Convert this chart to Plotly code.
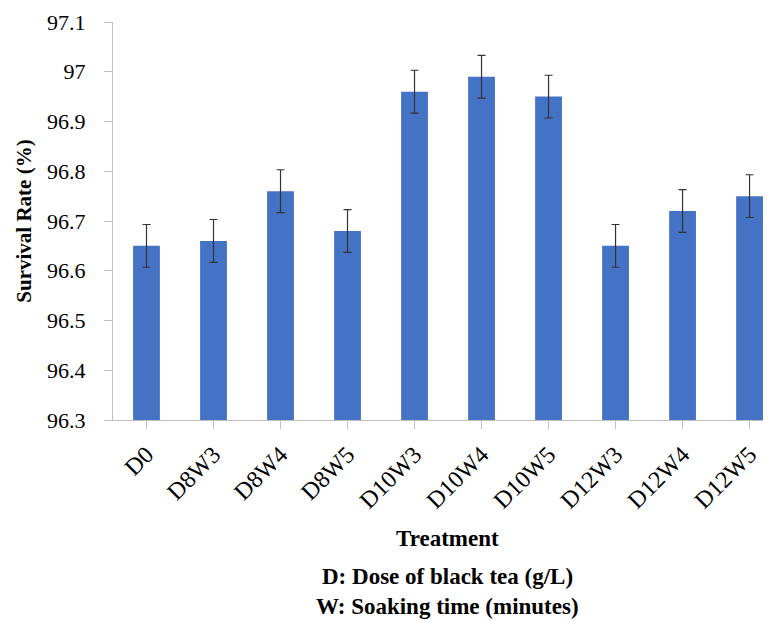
import plotly.graph_objects as go

categories = ["D0", "D8W3", "D8W4", "D8W5", "D10W3", "D10W4", "D10W5", "D12W3", "D12W4", "D12W5"]
survival = [96.65, 96.66, 96.76, 96.68, 96.96, 96.99, 96.95, 96.65, 96.72, 96.75]
errors = [0.043, 0.043, 0.043, 0.043, 0.043, 0.043, 0.043, 0.043, 0.043, 0.043]
y_ticks = [96.3, 96.4, 96.5, 96.6, 96.7, 96.8, 96.9, 97.0, 97.1]
y_tick_text = ["96.3", "96.4", "96.5", "96.6", "96.7", "96.8", "96.9", "97", "97.1"]

FONT = "Liberation Serif"

# page body has an 8px margin; compensate so the visible 771x621 window matches
OFF = 8
W, H = 771 - OFF, 621 - OFF
L, T = 113 - OFF, 22 - OFF
PLOT_H = 398
B = H - T - PLOT_H

fig = go.Figure()
fig.add_trace(go.Bar(
    x=list(range(len(categories))),
    y=[v - 96.3 for v in survival],
    base=96.3,
    width=0.4,
    marker=dict(color="#4472C4", line=dict(width=0)),
    error_y=dict(type="data", array=errors, visible=True, color="#333333", thickness=1.2, width=4),
))

fig.update_layout(
    width=W, height=H,
    margin=dict(l=L, r=0, t=T, b=B),
    plot_bgcolor="white", paper_bgcolor="white",
    showlegend=False,
    font=dict(family=FONT, color="black"),
    xaxis=dict(
        tickmode="array",
        tickvals=list(range(len(categories))),
        ticktext=categories,
        range=[-0.5, 9.32],
        tickangle=-45,
        tickfont=dict(size=24, family=FONT, color="black"),
        ticklabelstandoff=2,
        showline=True, linecolor="#BFBFBF", linewidth=1,
        ticks="outside", ticklen=8, tickcolor="#BFBFBF",
        tickson="boundaries",
        showgrid=False, zeroline=False,
    ),
    yaxis=dict(
        range=[96.3, 97.1],
        tickmode="array",
        tickvals=y_ticks,
        ticktext=y_tick_text,
        tickfont=dict(size=22, family=FONT, color="black"),
        ticklabelstandoff=14,
        showline=True, linecolor="#BFBFBF", linewidth=1,
        ticks="outside", ticklen=8, tickcolor="#BFBFBF",
        showgrid=False, zeroline=False,
        title=dict(text="<b>Survival Rate (%)</b>", font=dict(size=21, family=FONT, color="black"), standoff=9),
    ),
)

plot_w = W - L
def px(xp):
    return (xp - OFF - L) / plot_w
def py(yp):
    return (H - B - (yp - OFF)) / PLOT_H

for txt, yp in [("<b>Treatment</b>", 538), ("<b>D: Dose of black tea (g/L)</b>", 576), ("<b>W: Soaking time (minutes)</b>", 606)]:
    fig.add_annotation(text=txt, x=px(447), y=py(yp), xref="paper", yref="paper",
                       xanchor="center", yanchor="middle", showarrow=False,
                       font=dict(size=23, family=FONT, color="black"))

fig.write_html("out.html")
